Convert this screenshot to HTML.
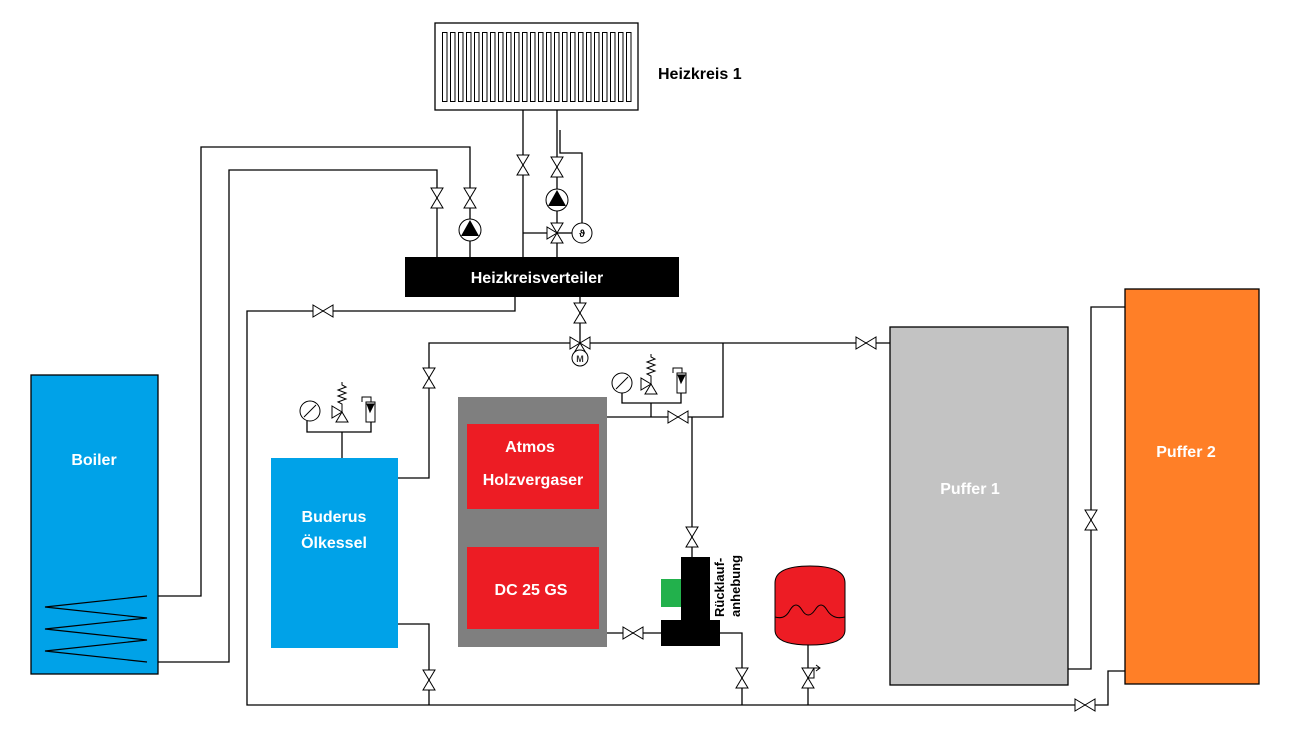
<!DOCTYPE html>
<html><head><meta charset="utf-8"><style>
html,body{margin:0;padding:0;background:#fff;}
svg{display:block;}
text{font-family:"Liberation Sans",sans-serif;font-weight:bold;}
</style></head><body>
<svg width="1298" height="732" viewBox="0 0 1298 732" xmlns="http://www.w3.org/2000/svg">
<defs>
<symbol id="vv" overflow="visible"><path d="M-6,-10 L6,-10 L-6,10 L6,10 Z" fill="#fff" stroke="#000" stroke-width="1"/></symbol>
<symbol id="hv" overflow="visible"><path d="M-10,-6 L-10,6 L10,-6 L10,6 Z" fill="#fff" stroke="#000" stroke-width="1"/></symbol>
<symbol id="pump" overflow="visible"><circle r="11" fill="#fff" stroke="#000"/><path d="M0,-10 L9,6 L-9,6 Z" fill="#000"/></symbol>
<symbol id="fin" overflow="visible"><rect x="0.5" y="32.5" width="4.5" height="69" fill="none" stroke="#000" stroke-width="1"/></symbol>
</defs>
<rect x="435" y="23" width="203" height="87" fill="#fff" stroke="#000" stroke-width="1.3"/>
<use href="#fin" x="442"/><use href="#fin" x="450"/><use href="#fin" x="458"/><use href="#fin" x="466"/>
<use href="#fin" x="474"/><use href="#fin" x="482"/><use href="#fin" x="490"/><use href="#fin" x="498"/>
<use href="#fin" x="506"/><use href="#fin" x="514"/><use href="#fin" x="522"/><use href="#fin" x="530"/>
<use href="#fin" x="538"/><use href="#fin" x="546"/><use href="#fin" x="554"/><use href="#fin" x="562"/>
<use href="#fin" x="570"/><use href="#fin" x="578"/><use href="#fin" x="586"/><use href="#fin" x="594"/>
<use href="#fin" x="602"/><use href="#fin" x="610"/><use href="#fin" x="618"/><use href="#fin" x="626"/>
<g stroke="#000" stroke-width="1.3" fill="none">
<polyline points="523,110 523,257"/>
<polyline points="557,110 557,257"/>
<polyline points="523,233 557,233"/>
<polyline points="557,233 572,233"/>
<polyline points="560,130 560,153 582,153 582,223"/>
<polyline points="158,596 201,596 201,147 470,147 470,257"/>
<polyline points="158,662 229,662 229,170 437,170 437,257"/>
<polyline points="515,297 515,311 247,311 247,705 1085,705"/>
<polyline points="1085,705 1108,705 1108,671 1125,671"/>
<polyline points="1068,669 1091,669 1091,307 1125,307"/>
<polyline points="580,297 580,343"/>
<polyline points="398,478 429,478 429,343 890,343"/>
<polyline points="723,343 723,417 607,417"/>
<polyline points="692,417 692,557"/>
<polyline points="622,393 622,403 681,403 681,393"/>
<polyline points="651,403 651,417"/>
<polyline points="307,421 307,432 371,432 371,422"/>
<polyline points="342,432 342,458"/>
<polyline points="398,624 429,624 429,705"/>
<polyline points="607,633 661,633"/>
<polyline points="720,633 742,633 742,705"/>
<polyline points="808,640 808,705"/>
</g>
<rect x="31" y="375" width="127" height="299" fill="#00a2e8" stroke="#000" stroke-width="1.3"/>
<g stroke="#000" stroke-width="1.2" fill="none">
<polyline points="147,596 45,607 147,618 45,629 147,640 45,651 147,662"/>
</g>
<text x="94" y="465" fill="#fff" font-size="16" text-anchor="middle">Boiler</text>
<rect x="271" y="458" width="127" height="190" fill="#00a2e8"/>
<text x="334" y="522" fill="#fff" font-size="16" text-anchor="middle">Buderus</text>
<text x="334" y="548" fill="#fff" font-size="16" text-anchor="middle">Ölkessel</text>
<rect x="458" y="397" width="149" height="250" fill="#7f7f7f"/>
<rect x="467" y="424" width="132" height="85" fill="#ed1c24"/>
<rect x="467" y="547" width="132" height="82" fill="#ed1c24"/>
<text x="530" y="452" fill="#fff" font-size="16" text-anchor="middle">Atmos</text>
<text x="533" y="485" fill="#fff" font-size="16" text-anchor="middle">Holzvergaser</text>
<text x="531" y="595" fill="#fff" font-size="16" text-anchor="middle">DC 25 GS</text>
<rect x="405" y="257" width="274" height="40" fill="#000"/>
<text x="537" y="283" fill="#fff" font-size="16" text-anchor="middle">Heizkreisverteiler</text>
<text x="658" y="79" fill="#000" font-size="16">Heizkreis 1</text>
<rect x="890" y="327" width="178" height="358" fill="#c3c3c3" stroke="#000" stroke-width="1.3"/>
<text x="970" y="494" fill="#fff" font-size="16" text-anchor="middle">Puffer 1</text>
<rect x="1125" y="289" width="134" height="395" fill="#ff7f27" stroke="#000" stroke-width="1.3"/>
<text x="1186" y="457" fill="#fff" font-size="16" text-anchor="middle">Puffer 2</text>
<rect x="681" y="557" width="29" height="68" fill="#000"/>
<rect x="661" y="620" width="59" height="26" fill="#000"/>
<rect x="661" y="579" width="20" height="28" fill="#22b14c"/>
<text transform="translate(724,617) rotate(-90)" fill="#000" font-size="13">Rücklauf-</text>
<text transform="translate(740,617) rotate(-90)" fill="#000" font-size="13">anhebung</text>
<path d="M775,583 Q775,566 810,566 Q845,566 845,583 L845,630 Q845,645 810,645 Q775,645 775,630 Z" fill="#ed1c24" stroke="#000"/>
<path d="M775,617 Q785,620 790,610 Q796,600 802,610 Q808,620 815,610 Q821,600 827,610 Q833,620 845,617" fill="none" stroke="#000"/>
<use href="#vv" x="523" y="165"/>
<use href="#vv" x="557" y="167"/>
<use href="#pump" x="557" y="200"/>
<use href="#vv" x="557" y="233"/>
<path d="M547,227 L547,239 L557,233 Z" fill="#fff" stroke="#000"/>
<circle cx="582" cy="233" r="10" fill="#fff" stroke="#000"/>
<text x="582" y="237" font-size="10" text-anchor="middle">ϑ</text>
<use href="#vv" x="470" y="198"/>
<use href="#pump" x="470" y="230"/>
<use href="#vv" x="437" y="198"/>
<use href="#hv" x="323" y="311"/>
<use href="#vv" x="580" y="313"/>
<use href="#hv" x="580" y="343"/>
<path d="M574,353 L586,353 L580,343 Z" fill="#fff" stroke="#000"/>
<circle cx="580" cy="358" r="8" fill="#fff" stroke="#000"/>
<text x="580" y="362" font-size="9" text-anchor="middle" fill="#333">M</text>
<use href="#hv" x="866" y="343"/>
<use href="#vv" x="429" y="378"/>
<use href="#hv" x="678" y="417"/>
<use href="#vv" x="692" y="537"/>
<use href="#hv" x="633" y="633"/>
<use href="#vv" x="429" y="680"/>
<use href="#vv" x="742" y="678"/>
<use href="#vv" x="808" y="678"/>
<path d="M808,678 L814,678 L814,668 L820,668 M816,665 L820,668 L816,671" fill="none" stroke="#000"/>
<use href="#vv" x="1091" y="520"/>
<use href="#hv" x="1085" y="705"/>
<g stroke="#000" fill="#fff" stroke-width="1">
<circle cx="310" cy="411" r="10"/><line x1="304" y1="417" x2="316" y2="405"/>
<path d="M342,412 L348,422 L336,422 Z"/><path d="M342,412 L332,406 L332,418 Z"/>
<path d="M342,412 L342,404 L338,402 L346,399 L338,396 L346,393 L338,390 L346,387 L342,385 L342,382" fill="none"/>
<rect x="366" y="402" width="9" height="20"/><path d="M367,404 L374,404 L370,412 Z" fill="#000"/><path d="M362,402 L362,397 L371,397 L371,402" fill="none"/>
<circle cx="622" cy="383" r="10"/><line x1="616" y1="389" x2="628" y2="377"/>
<path d="M651,384 L657,394 L645,394 Z"/><path d="M651,384 L641,378 L641,390 Z"/>
<path d="M651,384 L651,376 L647,374 L655,371 L647,368 L655,365 L647,362 L655,359 L651,357 L651,354" fill="none"/>
<rect x="677" y="373" width="9" height="20"/><path d="M678,375 L685,375 L681,383 Z" fill="#000"/><path d="M673,373 L673,368 L682,368 L682,373" fill="none"/>
</g>
</svg>
</body></html>
